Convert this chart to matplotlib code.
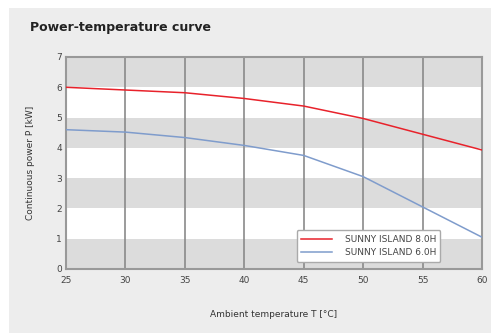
import matplotlib
matplotlib.use("Agg")
import matplotlib.pyplot as plt
from matplotlib.patches import Rectangle

temps = [25, 30, 35, 40, 45, 50, 55, 60]
power_8 = [6.0, 5.91, 5.82, 5.63, 5.38, 4.97, 4.45, 3.93]
power_6 = [4.6, 4.52, 4.34, 4.08, 3.75, 3.05, 2.05, 1.05]
series_names = ["SUNNY ISLAND 8.0H", "SUNNY ISLAND 6.0H"]
x_ticks = [25, 30, 35, 40, 45, 50, 55, 60]
y_ticks = [0, 1, 2, 3, 4, 5, 6, 7]

W, H = 491, 333
fig = plt.figure(figsize=(W / 100, H / 100), dpi=100)
fig.patch.set_facecolor("white")
fig.patches.append(Rectangle((9 / W, 0), 1 - 9 / W, 1 - 8 / H, transform=fig.transFigure,
                             facecolor="#ededed", edgecolor="none", zorder=-10))

ax = fig.add_axes([66 / W, 1 - 269 / H, (482 - 66) / W, (269 - 57) / H])
ax.set_facecolor("white")
ax.set_xlim(25, 60)
ax.set_ylim(0, 7)
for lo in [0, 2, 4, 6]:
    ax.axhspan(lo, lo + 1, color="#dcdcdc", zorder=0, lw=0)
for xv in x_ticks[1:-1]:
    ax.axvline(xv, color="#8a8a8a", lw=1.2, zorder=1)

ax.plot(temps, power_8, color="#e8222b", lw=1.1, label=series_names[0], zorder=3)
ax.plot(temps, power_6, color="#7f9ccc", lw=1.1, label=series_names[1], zorder=3)

ax.set_xticks(x_ticks)
ax.set_yticks(y_ticks)
ax.tick_params(length=0, labelsize=6.5, labelcolor="#444444")
ax.tick_params(axis="x", pad=5)
ax.tick_params(axis="y", pad=3)
for s in ax.spines.values():
    s.set_color("#999999")
    s.set_linewidth(1.5)

ax.set_xlabel("Ambient temperature T [°C]", fontsize=6.5, color="#333333", labelpad=18)
ax.set_ylabel("Continuous power P [kW]", fontsize=6.5, color="#333333", labelpad=15)

leg = ax.legend(loc="lower right", bbox_to_anchor=(0.9, 0.035), borderaxespad=0,
                fontsize=6.5, frameon=True,
                fancybox=True, framealpha=1, edgecolor="#aaaaaa", handlelength=3.4,
                handletextpad=1.4, borderpad=0.5, labelspacing=0.45)
for t in leg.get_texts():
    t.set_color("#444444")

fig.text(30 / W, 1 - 28 / H, "Power-temperature curve", fontsize=9, fontweight="bold",
         color="#222222", va="center", ha="left")

fig.savefig("out.png", dpi=100)
